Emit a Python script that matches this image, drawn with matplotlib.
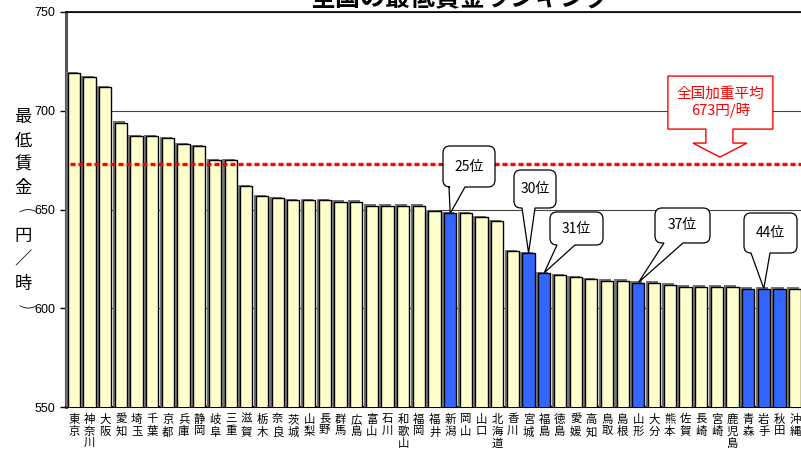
import numpy as np
import matplotlib.pyplot as plt
import matplotlib.patheffects as pe
from matplotlib.path import Path
from matplotlib.patches import PathPatch, Polygon

plt.rcParams['font.family'] = ['Noto Sans CJK JP', 'DejaVu Sans']

prefectures = ['東京', '神奈川', '大阪', '愛知', '埼玉', '千葉', '京都', '兵庫', '静岡', '岐阜',
               '三重', '滋賀', '栃木', '奈良', '茨城', '山梨', '長野', '群馬', '広島', '富山',
               '石川', '和歌山', '福岡', '福井', '新潟', '岡山', '山口', '北海道', '香川', '宮城',
               '福島', '徳島', '愛媛', '高知', '鳥取', '島根', '山形', '大分', '熊本', '佐賀',
               '長崎', '宮崎', '鹿児島', '青森', '岩手', '秋田', '沖縄']
wages = [719, 717, 712, 694, 687, 687, 686, 683, 682, 675,
         675, 662, 657, 656, 655, 655, 655, 654, 654, 652,
         652, 652, 652, 649, 648, 648, 646, 644, 629, 628,
         618, 617, 616, 615, 614, 614, 613, 613, 612, 611,
         611, 611, 611, 610, 610, 610, 610]
highlight = ['新潟', '宮城', '福島', '山形', '青森', '岩手', '秋田']
national_avg = 673

# rank bubbles: label, prefecture, box (left, top, right, bottom) and tail base, in pixels
rank_notes = [('25位', '新潟', (443, 146, 495, 187), (449, 465)),
              ('30位', '宮城', (514, 170, 556, 208), (522, 535)),
              ('31位', '福島', (550, 212, 603, 245), (557, 575)),
              ('37位', '山形', (655, 208, 710, 243), (664, 683)),
              ('44位', '岩手', (744, 213, 797, 253), (751, 770))]

W, H = 801, 451
fig = plt.figure(figsize=(W / 100, H / 100), dpi=100)
ax = fig.add_axes([66 / W, 44 / H, 737 / W, 395 / H])


def px(x, y):
    # image pixel (from top-left) -> display coords
    return x, H - y


x = np.arange(len(prefectures))
colors = ['#3366ff' if p in highlight else '#ffffcc' for p in prefectures]
bars = ax.bar(x, wages, width=0.78, color=colors, edgecolor='black', linewidth=1.0, zorder=3)
for b in bars:
    b.set_path_effects([pe.SimplePatchShadow(offset=(-1.5, 0.8), shadow_rgbFace='0.45', alpha=1),
                        pe.Normal()])

ax.set_xlim(-0.5, len(prefectures) - 0.5)
ax.set_ylim(550, 750)
ax.set_yticks([550, 600, 650, 700, 750])
ax.set_yticklabels(['550', '600', '650', '700', '750'], family='Liberation Sans', fontsize=9)
ax.yaxis.grid(True, color='#444444', linewidth=0.8, zorder=0)
ax.set_axisbelow(True)
ax.tick_params(axis='y', length=4, width=1, pad=3.5)

ax.set_xticks(x)
ax.set_xticklabels(['\n'.join(p) for p in prefectures], fontsize=8.2, linespacing=1.17, va='top')
ax.tick_params(axis='x', length=0, pad=5)
ax.set_xticks(x[:-1] + 0.5, minor=True)
ax.tick_params(axis='x', which='minor', direction='in', length=3, width=0.8, color='#555555')

ax.spines['left'].set_color('#555555')
ax.spines['left'].set_linewidth(2.2)
ax.spines['bottom'].set_linewidth(1.5)
ax.spines['top'].set_linewidth(1.2)
ax.spines['right'].set_visible(False)

# national weighted average
ax.axhline(national_avg, xmin=0.005, color='#ff0000', linewidth=2.4,
           linestyle=(0, (1.5, 0.9)), dash_capstyle='butt', zorder=4)

# average callout (box with downward arrow)
tx, ty = ax.transData.transform((41.2, national_avg))
ty += 7
shape = [(0, 0), (-27, 14), (-14, 14), (-14, 28), (-52, 28), (-52, 81),
         (53, 81), (53, 28), (13, 28), (13, 14), (27, 14)]
fig.patches.append(Polygon([(tx + dx, ty + dy) for dx, dy in shape], closed=True,
                           facecolor='white', edgecolor='#ff0000', linewidth=1.0,
                           transform=None, zorder=5))
fig.text((tx + 0.5) / W, (ty + 55) / H, '全国加重平均\n673円/時', color='#ff0000',
         fontsize=10.5, ha='center', va='center', linespacing=1.2, zorder=6)


def bubble(box, base, tip, r=7):
    x0, y0 = px(box[0], box[3])
    x1, y1 = px(box[2], box[1])
    verts = [(x0 + r, y0), (base[0], y0), tip, (base[1], y0), (x1 - r, y0),
             (x1, y0), (x1, y0 + r), (x1, y1 - r), (x1, y1), (x1 - r, y1),
             (x0 + r, y1), (x0, y1), (x0, y1 - r), (x0, y0 + r), (x0, y0), (x0 + r, y0),
             (x0 + r, y0)]
    codes = [Path.MOVETO, Path.LINETO, Path.LINETO, Path.LINETO, Path.LINETO,
             Path.CURVE3, Path.CURVE3, Path.LINETO, Path.CURVE3, Path.CURVE3,
             Path.LINETO, Path.CURVE3, Path.CURVE3, Path.LINETO, Path.CURVE3, Path.CURVE3,
             Path.CLOSEPOLY]
    return Path(verts, codes)


for label, pref, box, base in rank_notes:
    i = prefectures.index(pref)
    tip = ax.transData.transform((i, wages[i]))
    fig.patches.append(PathPatch(bubble(box, base, tip), facecolor='white',
                                 edgecolor='black', linewidth=0.9, transform=None, zorder=5))
    cx, cy = px((box[0] + box[2]) / 2, (box[1] + box[3]) / 2)
    fig.text(cx / W, cy / H, label, fontsize=10, ha='center', va='center', zorder=6)

# vertical y-axis title; brackets turned to read top-down
ylabel_chars = ['最', '低', '賃', '金', '(', '円', '／', '時', ')']
for k, ch in enumerate(ylabel_chars):
    if ch in '()':
        fig.text(25 / W, (H - 117 - 23.8 * k) / H, ch, fontsize=14, ha='center', va='center',
                 rotation=-90, family='DejaVu Sans', fontweight='light')
    else:
        fig.text(23 / W, (H - 117 - 23.8 * k) / H, ch, fontsize=12.5, ha='center', va='center')

fig.text(461 / W, (H + 1) / H, '全国の最低賃金ランキング', fontsize=18, fontweight='bold',
         ha='center', va='center')

fig.savefig('out.png', dpi=100)
